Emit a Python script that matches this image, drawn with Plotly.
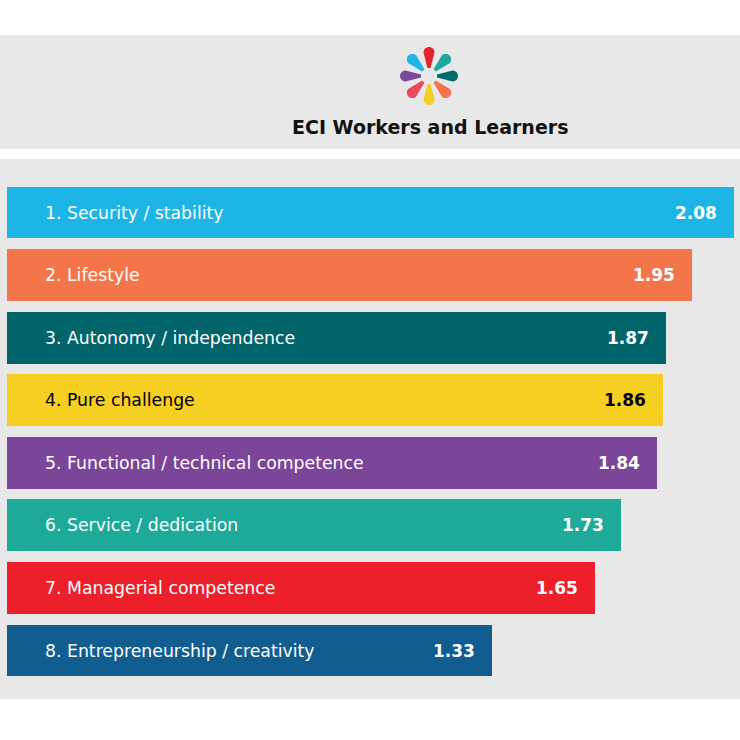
import math
import plotly.graph_objects as go

categories = [
    "1. Security / stability",
    "2. Lifestyle",
    "3. Autonomy / independence",
    "4. Pure challenge",
    "5. Functional / technical competence",
    "6. Service / dedication",
    "7. Managerial competence",
    "8. Entrepreneurship / creativity",
]
values = [2.08, 1.95, 1.87, 1.86, 1.84, 1.73, 1.65, 1.33]
bar_colors = ["#1cb5e6", "#f47549", "#00646a", "#f5cf22", "#7b4599", "#1eaa99", "#ec1f2b", "#125d8f"]
text_colors = ["white", "white", "white", "black", "white", "white", "white", "white"]
title_text = "ECI Workers and Learners"

W, H = 740, 740
TOP, BOT = 159, 699  # plot area in px
PH = BOT - TOP
BASE = -0.170
X0, X1 = -0.1917, 2.0983

def px_x(px):
    return px / W

def px_y(py):
    return (BOT - py) / PH

fig = go.Figure()
fig.add_trace(go.Bar(
    y=list(range(len(categories))),
    x=[v - BASE for v in values],
    base=BASE,
    orientation="h",
    width=0.83,
    marker=dict(color=bar_colors, line=dict(width=0)),
    hoverinfo="skip",
    showlegend=False,
))

annotations = []
for i, (c, v, tc) in enumerate(zip(categories, values, text_colors)):
    annotations.append(dict(
        x=BASE, y=i, xref="x", yref="y", text=c, showarrow=False,
        xanchor="left", xshift=36, font=dict(family="DejaVu Sans", size=17.3, color=tc),
    ))
    annotations.append(dict(
        x=v, y=i, xref="x", yref="y", text=f"<b>{v:.2f}</b>", showarrow=False,
        xanchor="right", xshift=-15, font=dict(family="DejaVu Sans", size=17, color=tc),
    ))

annotations.append(dict(
    x=px_x(430), y=px_y(127), xref="paper", yref="paper", text=f"<b>{title_text}</b>",
    showarrow=False, xanchor="center", yanchor="middle",
    font=dict(family="DejaVu Sans", size=19, color="#111111"),
))

shapes = [
    dict(type="rect", xref="paper", yref="paper", x0=0, x1=1, y0=px_y(149), y1=px_y(35),
         fillcolor="#e8e8e8", line=dict(width=0), layer="below"),
]

# logo petals
cx, cy = 429, 76
petal_colors = ["#e8212e", "#1aa99a", "#006b6e", "#f47548", "#f5cf22", "#e84a5f", "#7b4a9d", "#1db5e6"]
r_in, r_out, half_w, tip_w = 8, 29, 5.5, 1.5
for k, col in enumerate(petal_colors):
    ang = math.radians(90 - 45 * k)
    ux, uy = math.cos(ang), -math.sin(ang)  # screen direction
    vx, vy = -uy, ux
    pts = []
    pts.append((cx + ux * r_in - vx * tip_w, cy + uy * r_in - vy * tip_w))
    pts.append((cx + ux * r_in + vx * tip_w, cy + uy * r_in + vy * tip_w))
    c_r = r_out - half_w
    n = 16
    for j in range(n + 1):
        t = math.pi / 2 - math.pi * j / n
        px = cx + ux * c_r + half_w * (ux * math.cos(t) + vx * math.sin(t))
        py = cy + uy * c_r + half_w * (uy * math.cos(t) + vy * math.sin(t))
        pts.append((px, py))
    path = "M " + " L ".join(f"{px_x(a):.5f},{px_y(b):.5f}" for a, b in pts) + " Z"
    shapes.append(dict(type="path", xref="paper", yref="paper", path=path,
                       fillcolor=col, line=dict(width=0)))

n = len(categories)
top_off = (212.5 - TOP) / 62.57
bot_off = (BOT - 650.5) / 62.57
fig.update_layout(
    width=W, height=H,
    margin=dict(l=0, r=0, t=TOP, b=H - BOT, pad=0),
    paper_bgcolor="white",
    plot_bgcolor="#e8e8e8",
    xaxis=dict(range=[X0, X1], visible=False, fixedrange=True),
    yaxis=dict(range=[n - 1 + bot_off, -top_off], visible=False, fixedrange=True),
    bargap=0,
    shapes=shapes,
    annotations=annotations,
)

fig.write_html(
    "out.html",
    config={"displayModeBar": False},
    post_script="document.body.style.margin='0';document.body.style.overflow='hidden';",
)
